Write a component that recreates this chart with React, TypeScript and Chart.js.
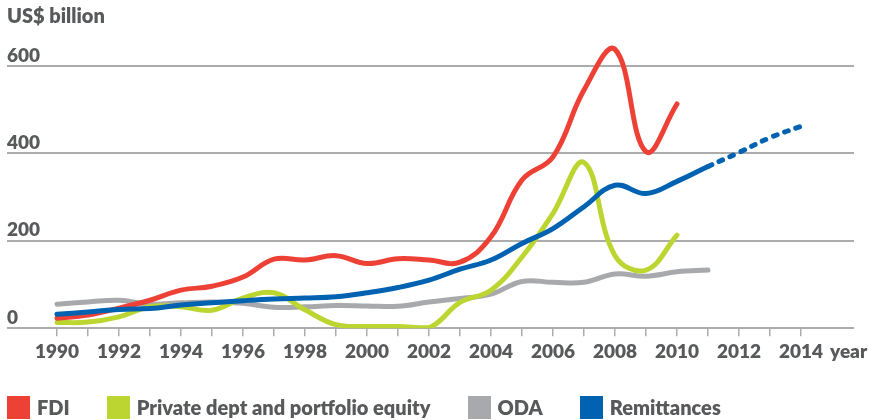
import React, { useEffect, useRef } from 'react';
import { Chart, registerables } from 'chart.js';

Chart.register(...registerables);

// ---- data ----
const years = [1990, 1991, 1992, 1993, 1994, 1995, 1996, 1997, 1998, 1999, 2000, 2001, 2002, 2003, 2004, 2005, 2006, 2007, 2008, 2009, 2010, 2011, 2012, 2013, 2014];
const evenYearLabels = ['1990', '1992', '1994', '1996', '1998', '2000', '2002', '2004', '2006', '2008', '2010', '2012', '2014'];
const fdi = [23, 30, 46, 64, 87, 96, 117, 158, 156, 166, 148, 159, 156, 151, 209, 339, 392, 545, 638, 404, 513];
const privateDebt = [13, 14, 26, 49, 49, 41, 69, 81, 42, 8, 4, 4, 1, 59, 87, 163, 263, 379, 166, 133, 213];
const oda = [55, 60, 64, 55, 58, 60, 57, 48, 49, 52, 51, 50, 60, 68, 78, 107, 105, 105, 124, 119, 129, 133];
const remittances = [32, 37, 43, 45, 53, 58, 63, 67, 69, 72, 81, 93, 110, 135, 156, 194, 228, 278, 327, 308, 336, 370, 402, 436, 462];
const projectionFrom = 2011;
const yTicks = [0, 200, 400, 600];
const seriesNames = ['FDI', 'Private dept and portfolio equity', 'ODA', 'Remittances'];
const seriesColors = ['#ee4136', '#bdd531', '#a7a9ac', '#0062b0'];
const yUnit = 'US$ billion';
const xUnit = 'year';

const TEXT = '#58595b';
const GRID = '#acacac';
const FONT = 'Lato';
const WEIGHT = 800;

const toPoints = (vals: number[]) => vals.map((v, i) => ({ x: years[i], y: v }));

const yearLabelPlugin = {
  id: 'yearLabel',
  afterDraw(chart: any) {
    const xs = chart.scales.x;
    const ctx = chart.ctx;
    ctx.save();
    ctx.font = `${WEIGHT} 19px ${FONT}`;
    ctx.fillStyle = TEXT;
    ctx.textAlign = 'left';
    ctx.textBaseline = 'middle';
    const x = xs.getPixelForValue(years[years.length - 1]) + 29;
    const y = xs.top + 8 + 4 + 11.4;
    ctx.fillText(xUnit, x, y);
    ctx.restore();
  },
};

export default function App() {
  const canvasRef = useRef<HTMLCanvasElement | null>(null);

  useEffect(() => {
    if (!canvasRef.current) return;
    const series = [fdi, privateDebt, oda, remittances];
    const orders = [1, 2, 3, 0];
    const chart = new Chart(canvasRef.current, {
      type: 'line',
      data: {
        datasets: series.map((vals, i) => ({
          label: seriesNames[i],
          data: toPoints(vals),
          borderColor: seriesColors[i],
          backgroundColor: seriesColors[i],
          borderWidth: 5,
          borderCapStyle: 'round' as const,
          borderJoinStyle: 'round' as const,
          pointRadius: 0,
          tension: 0.4,
          fill: false,
          order: orders[i],
          segment: i === 3 ? {
            borderDash: (ctx: any) => (ctx.p0.parsed.x >= projectionFrom ? [4, 8] : undefined),
          } : undefined,
        })),
      },
      options: {
        animation: false,
        responsive: false,
        devicePixelRatio: 1,
        layout: { padding: { left: 7, right: 18, top: 0, bottom: 53 } },
        plugins: {
          legend: { display: false },
          tooltip: { enabled: false },
          title: {
            display: true,
            text: yUnit,
            align: 'start',
            color: TEXT,
            font: { family: FONT, size: 20, weight: WEIGHT },
            padding: { top: 5, bottom: 2 },
          },
        },
        scales: {
          x: {
            type: 'linear',
            min: 1990 - 50 / 31,
            max: 2014 + 53 / 31,
            afterBuildTicks: (scale: any) => {
              scale.ticks = years.map((v) => ({ value: v }));
            },
            ticks: {
              autoSkip: false,
              maxRotation: 0,
              minRotation: 0,
              padding: 4,
              color: TEXT,
              font: { family: FONT, size: 19, weight: WEIGHT },
              callback: (v: any) => (evenYearLabels.includes(String(v)) ? String(v) : ''),
            },
            grid: {
              drawOnChartArea: false,
              drawTicks: true,
              tickLength: 8,
              color: GRID,
              lineWidth: 1.5,
            },
            border: { display: false },
          },
          y: {
            type: 'linear',
            position: 'left',
            min: 0,
            max: 680,
            afterBuildTicks: (scale: any) => {
              scale.ticks = yTicks.map((v) => ({ value: v }));
            },
            ticks: {
              mirror: true,
              padding: 0,
              labelOffset: -10.5,
              color: TEXT,
              font: { family: FONT, size: 19, weight: WEIGHT },
            },
            grid: {
              drawTicks: false,
              color: GRID,
              lineWidth: 2,
            },
            border: { display: false },
          },
        },
      },
      plugins: [yearLabelPlugin],
    } as any);
    return () => chart.destroy();
  }, []);

  return (
    <div style={{ position: 'absolute', left: 0, top: 0, width: 872, height: 420, background: '#fff', overflow: 'hidden' }}>
      <canvas ref={canvasRef} width={872} height={420} style={{ display: 'block' }} />
      <div
        style={{
          position: 'absolute',
          left: 7,
          top: 396,
          display: 'flex',
          alignItems: 'center',
          gap: 37,
          fontFamily: FONT,
          fontWeight: WEIGHT,
          fontSize: 20,
          color: TEXT,
          lineHeight: '23px',
          whiteSpace: 'nowrap',
        }}
      >
        {seriesNames.map((name, i) => (
          <div key={name} style={{ display: 'flex', alignItems: 'center', gap: 7 }}>
            <span style={{ display: 'inline-block', width: 23, height: 23, background: seriesColors[i] }} />
            <span>{name}</span>
          </div>
        ))}
      </div>
    </div>
  );
}
